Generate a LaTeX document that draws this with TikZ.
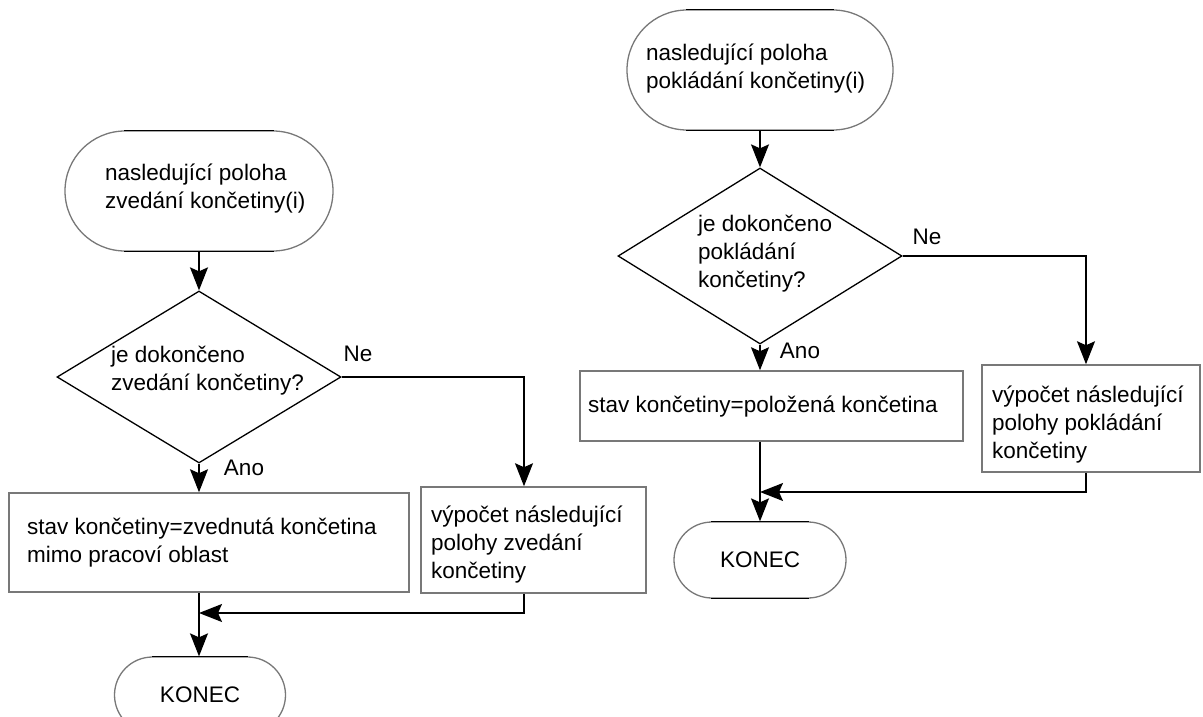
\documentclass[tikz,border=0pt]{standalone}
\usepackage{fontspec}
\setmainfont{Liberation Sans}
\usetikzlibrary{shapes.geometric,arrows.meta}
\definecolor{outl}{RGB}{120,120,120}
\tikzset{
  every node/.style={font=\fontsize{22.5}{28}\selectfont},
  termbig/.style={draw=outl, line width=1.3pt, rounded corners=60pt, minimum width=268pt, minimum height=120pt, inner sep=0pt},
  termsmall/.style={draw=outl, line width=1.3pt, rounded corners=38pt, minimum height=76pt, inner sep=0pt},
  decis/.style={draw=black, line width=1.3pt, diamond, inner sep=0pt},
  procbox/.style={draw=outl, line width=1.5pt, rectangle, inner sep=0pt},
  txt/.style={anchor=west, align=left, inner sep=0pt},
  lbl/.style={inner sep=0pt},
  conn/.style={line width=1.4pt, -{Stealth[length=23pt,width=18pt,inset=4pt]}},
  plain/.style={line width=1.4pt}
}
\begin{document}
\begin{tikzpicture}[x=1pt,y=-1pt]
\useasboundingbox (0,0) rectangle (1203,717);
\fill[white] (0,0) rectangle (1203,717);

% ---------- left chart ----------
\node[termbig] (s1) at (199,191) {};
\node[txt] (s1t) at (105,189) {nasledující poloha\\zvedání končetiny(i)};
\node[decis, minimum width=284pt, minimum height=172pt] (d1) at (199,377) {};
\node[txt] (d1t) at (111,371) {je dokončeno\\zvedání končetiny?};
\node[lbl] (ne1) at (358,354) {Ne};
\node[lbl] (ano1) at (244,468) {Ano};
\node[procbox, minimum width=400pt, minimum height=99pt] (b1) at (209,542.5) {};
\node[txt] (b1t) at (27,542.5) {stav končetiny=zvednutá končetina\\mimo pracoví oblast};
\node[procbox, minimum width=225pt, minimum height=106pt] (b2) at (533.5,540) {};
\node[txt] (b2t) at (431,545) {výpočet následující\\polohy zvedání\\končetiny};
\node[termsmall, minimum width=171pt] (k1) at (200,695) {KONEC};
\coordinate (c1) at (524,0);
\coordinate (j1) at (199,613);

\draw[conn] (s1.south) -- (d1.north);
\draw[conn] (d1.south) -- (d1.south |- b1.north);
\draw[conn] (d1.east) -| (b2.north -| c1);
\draw[plain] (b1.south -| d1) -- (j1);
\draw[conn] (j1) -- (k1.north -| d1);
\draw[conn] (b2.south -| c1) |- (j1);

% ---------- right chart ----------
\node[termbig, minimum width=266pt] (s2) at (760,70) {};
\node[txt] (s2t) at (646,69) {nasledující poloha\\pokládání končetiny(i)};
\node[decis, minimum width=284pt, minimum height=176pt] (d2) at (760,256) {};
\node[txt] (d2t) at (698,254) {je dokončeno\\pokládání\\končetiny?};
\node[lbl] (ne2) at (927,237) {Ne};
\node[lbl] (ano2) at (800,351) {Ano};
\node[procbox, minimum width=383pt, minimum height=70pt] (b3) at (771.5,406) {};
\node[txt] (b3t) at (588,407) {stav končetiny=položená končetina};
\node[procbox, minimum width=218pt, minimum height=107pt] (b4) at (1091,418.5) {};
\node[txt] (b4t) at (992,425) {výpočet následující\\polohy pokládání\\končetiny};
\node[termsmall, minimum width=172pt] (k2) at (760,560) {KONEC};
\coordinate (c2) at (1086,0);
\coordinate (j2) at (760,492);

\draw[conn] (s2.south) -- (d2.north);
\draw[conn] (d2.south) -- (d2.south |- b3.north);
\draw[conn] (d2.east) -| (b4.north -| c2);
\draw[plain] (b3.south -| d2) -- (j2);
\draw[conn] (j2) -- (k2.north);
\draw[conn] (b4.south -| c2) |- (j2);

% darker straight edges of the terminals
\foreach \n/\r in {s1/60, s2/60, k1/38, k2/38} {
  \draw[black, line width=1.3pt] ([xshift=\r pt]\n.north west) -- ([xshift=-\r pt]\n.north east);
  \draw[black, line width=1.3pt] ([xshift=\r pt]\n.south west) -- ([xshift=-\r pt]\n.south east);
}
\end{tikzpicture}
\end{document}
